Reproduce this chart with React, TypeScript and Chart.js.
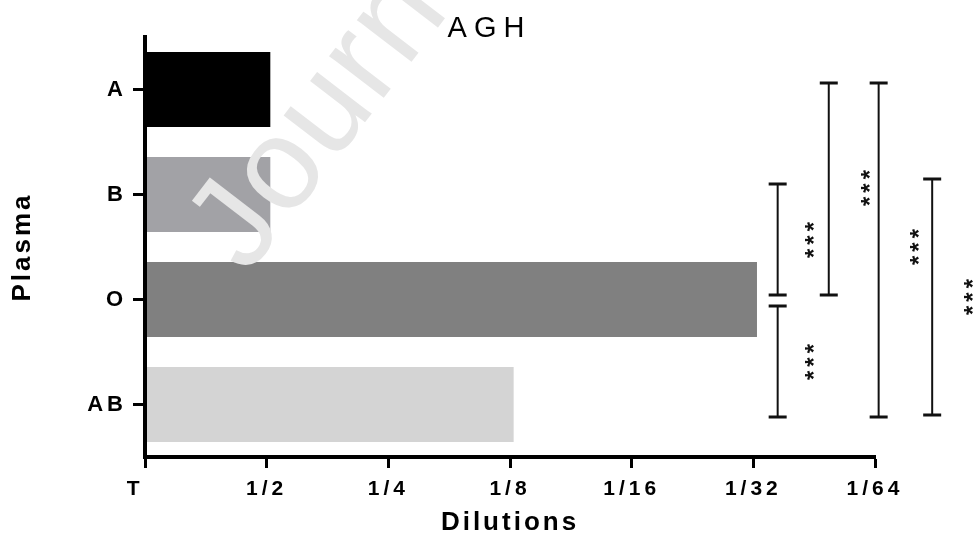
import React, { useEffect, useRef } from 'react';
import { Chart, registerables } from 'chart.js';

Chart.register(...registerables);

// ---- data ----
const categories = ['A', 'B', 'O', 'AB'];
const titers = [1.03, 1.03, 5.03, 3.03];
const dilutionLabels = ['T', '1/2', '1/4', '1/8', '1/16', '1/32', '1/64'];
const barColors = ['#000000', '#a2a2a6', '#808080', '#d4d4d4'];

// significance brackets (x in dilution units, y in category index units)
const comparisons = [['B', 'O'], ['O', 'AB'], ['A', 'O'], ['A', 'AB'], ['B', 'AB']];
const significance = ['***', '***', '***', '***', '***'];
const bracketX = [5.2, 5.2, 5.62, 6.03, 6.47];
const bracketTop = [0.9, 2.062, -0.062, -0.062, 0.852];
const bracketBottom = [1.957, 3.119, 1.957, 3.119, 3.1];
const starX = [5.45, 5.45, 5.91, 6.31, 6.76];
const starY = [1.433, 2.595, 0.938, 1.5, 1.976];

const chartTitle = 'AGH';
const xTitle = 'Dilutions';
const yTitle = 'Plasma';
const watermark = 'Journal';

const FAMILY = "'Liberation Sans', Arial, Helvetica, sans-serif";

const decorPlugin = {
  id: 'decor',
  beforeDraw(chart: any) {
    chart.ctx.letterSpacing = '3px';
  },
  afterDatasetsDraw(chart: any) {
    const ctx = chart.ctx;
    // watermark
    ctx.save();
    ctx.letterSpacing = '2px';
    ctx.translate(247, 276);
    ctx.rotate(-0.916);
    ctx.font = `130px ${FAMILY}`;
    ctx.fillStyle = '#e6e6e6';
    ctx.textAlign = 'left';
    ctx.textBaseline = 'alphabetic';
    ctx.fillText(watermark, 0, 0);
    ctx.restore();
    ctx.letterSpacing = '4px';
  },
  afterDraw(chart: any) {
    const ctx = chart.ctx;
    const xs = chart.scales.x;
    const ys = chart.scales.y;
    ctx.save();
    ctx.strokeStyle = '#111';
    ctx.fillStyle = '#111';
    for (let i = 0; i < comparisons.length; i++) {
      const x = xs.getPixelForValue(bracketX[i]);
      const y1 = ys.getPixelForValue(bracketTop[i]);
      const y2 = ys.getPixelForValue(bracketBottom[i]);
      ctx.lineWidth = 2;
      ctx.beginPath();
      ctx.moveTo(x, y1);
      ctx.lineTo(x, y2);
      ctx.stroke();
      ctx.lineWidth = 3;
      ctx.beginPath();
      ctx.moveTo(x - 9, y1);
      ctx.lineTo(x + 9, y1);
      ctx.moveTo(x - 9, y2);
      ctx.lineTo(x + 9, y2);
      ctx.stroke();
      // stars
      const sx = xs.getPixelForValue(starX[i]);
      const sy = ys.getPixelForValue(starY[i]);
      ctx.save();
      ctx.letterSpacing = '4px';
      ctx.font = `bold 24px ${FAMILY}`;
      ctx.textAlign = 'center';
      ctx.textBaseline = 'alphabetic';
      ctx.translate(sx + 14, sy);
      ctx.rotate(-Math.PI / 2);
      ctx.fillText(significance[i], 2, 0);
      ctx.restore();
    }
    // title
    ctx.letterSpacing = '7px';
    ctx.font = `29px ${FAMILY}`;
    ctx.fillStyle = '#000';
    ctx.textAlign = 'center';
    ctx.textBaseline = 'alphabetic';
    ctx.fillText(chartTitle, 489.5, 37);
    ctx.restore();
    ctx.letterSpacing = '0px';
  },
};

export default function App() {
  const ref = useRef<HTMLCanvasElement | null>(null);
  useEffect(() => {
    if (!ref.current) return;
    const chart = new Chart(ref.current, {
      type: 'bar',
      data: {
        labels: categories,
        datasets: [
          {
            data: titers,
            backgroundColor: barColors,
            borderWidth: 0,
            barPercentage: 0.714,
            categoryPercentage: 1,
          },
        ],
      },
      options: {
        indexAxis: 'y',
        animation: false,
        responsive: false,
        devicePixelRatio: 1,
        layout: { padding: { left: 0, right: 101, top: 37, bottom: 0 } },
        plugins: {
          legend: { display: false },
          tooltip: { enabled: false },
          title: { display: false },
        },
        scales: {
          x: {
            type: 'linear',
            min: 0,
            max: 6,
            ticks: {
              stepSize: 1,
              callback: (v: any) => {
                const t = dilutionLabels[v] ?? '';
                return v === 0 ? t + '  ' : t;
              },
              font: { family: FAMILY, size: 21, weight: 'bold' },
              color: '#000',
              padding: 9,
              z: 1,
            },
            grid: {
              drawOnChartArea: false,
              drawTicks: true,
              tickLength: 11,
              tickWidth: 3,
              tickColor: '#000',
              color: '#000',
              z: -1,
            },
            border: { display: true, color: '#000', width: 4, z: 1 },
            title: {
              display: true,
              text: xTitle,
              font: { family: FAMILY, size: 26, weight: 'bold' },
              color: '#000',
              padding: { top: 0, bottom: 0 },
            },
            afterFit: (s: any) => {
              s.height = 81;
            },
          },
          y: {
            type: 'category',
            offset: true,
            ticks: {
              font: { family: FAMILY, size: 22, weight: 'bold' },
              color: '#000',
              padding: 6,
              z: 1,
            },
            grid: {
              offset: false,
              drawOnChartArea: false,
              drawTicks: true,
              tickLength: 12,
              tickWidth: 3,
              tickColor: '#000',
              color: '#000',
              z: -1,
            },
            border: { display: true, color: '#000', width: 4, z: 1 },
            title: {
              display: true,
              text: yTitle,
              font: { family: FAMILY, size: 26, weight: 'bold' },
              color: '#000',
              padding: { top: 7, bottom: 0 },
            },
            afterFit: (s: any) => {
              s.width = 145;
            },
          },
        },
      } as any,
      plugins: [decorPlugin],
    });
    return () => chart.destroy();
  }, []);
  return (
    <div style={{ position: 'fixed', left: 0, top: 0, width: 976, height: 538, background: '#fff' }}>
      <canvas ref={ref} width={976} height={538} style={{ display: 'block' }} />
    </div>
  );
}
